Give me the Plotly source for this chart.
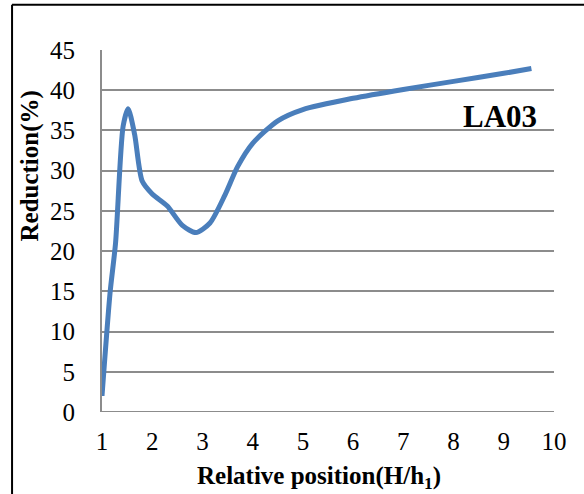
import plotly.graph_objects as go

# Data
rel_pos = [1.0, 1.16, 1.27, 1.42, 1.52, 1.65, 1.8, 2.0, 2.3, 2.6, 2.87, 3.15, 3.45, 3.7, 4.0, 4.5, 5.0, 6.0, 7.0, 8.0, 9.0, 9.55]
reduction = [2.0, 14.8, 21.0, 35.5, 37.7, 34.5, 28.7, 27.1, 25.6, 23.2, 22.3, 23.5, 27.0, 30.5, 33.4, 36.2, 37.6, 39.0, 40.1, 41.1, 42.1, 42.7]
y_ticks = [0, 5, 10, 15, 20, 25, 30, 35, 40, 45]
x_ticks = [1, 2, 3, 4, 5, 6, 7, 8, 9, 10]

FONT = "Liberation Serif, Times New Roman, serif"

fig = go.Figure()
fig.add_trace(go.Scatter(
    x=rel_pos, y=reduction, mode="lines",
    line=dict(color="#4a7ebb", width=5, shape="spline", smoothing=0.7),
    showlegend=False, hoverinfo="skip",
))

fig.update_layout(
    width=584, height=494,
    margin=dict(l=102, r=30, t=50, b=82),
    paper_bgcolor="white", plot_bgcolor="white",
    font=dict(family=FONT, size=25, color="black"),
    xaxis=dict(range=[1, 10], tickvals=x_ticks, showgrid=False,
               showline=False, zeroline=False, ticks="",
               ticklabelstandoff=12, tickfont=dict(size=25)),
    yaxis=dict(range=[0, 45], tickvals=y_ticks, showgrid=True,
               gridcolor="#8c8c8c", gridwidth=2, showline=True,
               linecolor="#8c8c8c", linewidth=2, zeroline=False, ticks="",
               ticklabelstandoff=20, tickfont=dict(size=25)),
    shapes=[
        dict(type="line", xref="paper", yref="y", x0=0, x1=1, y0=0, y1=0,
             line=dict(color="#8c8c8c", width=2)),
        # outer chart border (top and left edges visible in the crop)
        dict(type="line", xref="paper", yref="paper", x0=-0.199, x1=1.2,
             y0=1.125, y1=1.125, line=dict(color="black", width=2)),
        dict(type="line", xref="paper", yref="paper", x0=-0.199, x1=-0.199,
             y0=-0.4, y1=1.125, line=dict(color="black", width=2)),
    ],
    annotations=[
        dict(text="<b>LA03</b>", xref="paper", yref="paper", x=0.966, y=0.815,
             xanchor="right", yanchor="middle", showarrow=False,
             font=dict(size=31, family=FONT)),
        dict(text="<b>Relative position(H/h<sub>1</sub>)</b>", xref="paper",
             yref="paper", x=0.48, y=-0.18, xanchor="center", yanchor="middle",
             showarrow=False, font=dict(size=25, family=FONT)),
        dict(text="<b>Reduction(%)</b>", xref="paper", yref="paper",
             x=-0.16, y=0.68, xanchor="center", yanchor="middle",
             textangle=-90, showarrow=False, font=dict(size=25, family=FONT)),
    ],
)

fig.write_html("out.html", config={"displayModeBar": False},
               post_script="document.body.style.margin='0';")
